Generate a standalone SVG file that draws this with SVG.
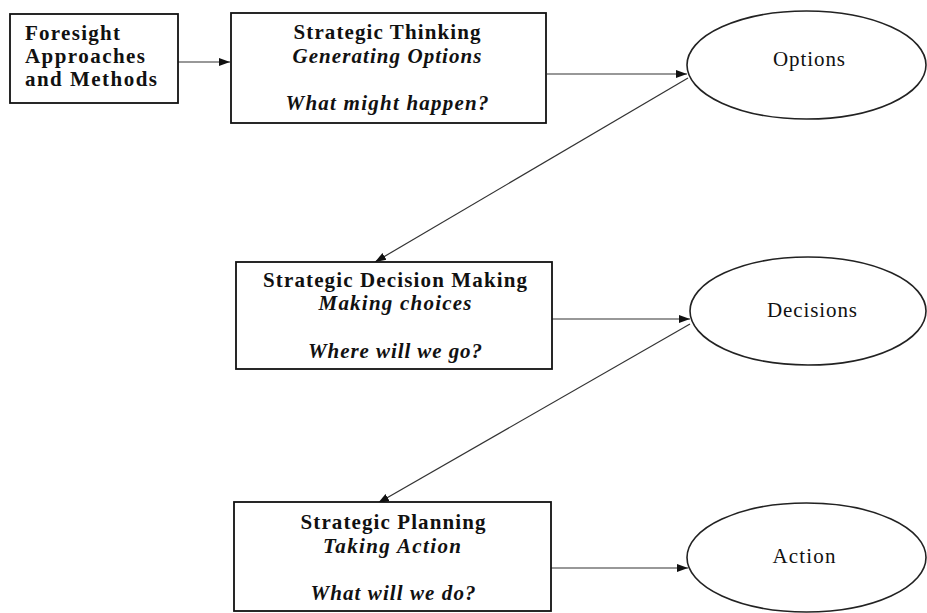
<svg xmlns="http://www.w3.org/2000/svg" width="927" height="613" viewBox="0 0 927 613">
<defs>
<marker id="arr" markerUnits="userSpaceOnUse" markerWidth="12" markerHeight="10" refX="11" refY="5" orient="auto">
<path d="M0,1 L11,5 L0,9 Z" fill="#111"/>
</marker>
<style>
.box{fill:#fff;stroke:#111;stroke-width:1.8}
.ell{fill:#fff;stroke:#222;stroke-width:1.6}
.con{stroke:#333;stroke-width:1.2;fill:none;marker-end:url(#arr)}
text{font-family:"Liberation Serif","Times New Roman",serif;fill:#111}
.b{font-weight:bold;font-size:21px}
.bi{font-weight:bold;font-style:italic;font-size:21px}
.r{font-size:21px}
.c{text-anchor:middle}
</style>
</defs>
<rect width="927" height="613" fill="#fff"/>
<g id="connectors">
<line class="con" x1="178" y1="62" x2="230" y2="62"/>
<line class="con" x1="547" y1="74" x2="687" y2="74"/>
<line class="con" x1="688" y1="78" x2="375" y2="262"/>
<line class="con" x1="552" y1="319" x2="690" y2="319"/>
<line class="con" x1="690" y1="324" x2="378" y2="503"/>
<line class="con" x1="551" y1="568" x2="688" y2="568"/>
</g>
<g id="foresight">
<rect class="box" x="10" y="14" width="168" height="89"/>
<text class="b" x="25" y="40" textLength="95">Foresight</text>
<text class="b" x="25" y="63" textLength="120">Approaches</text>
<text class="b" x="25" y="86" textLength="132">and Methods</text>
</g>
<g id="strategic-thinking">
<rect class="box" x="231" y="13" width="315" height="110"/>
<text class="b c" x="387" y="39" textLength="187">Strategic Thinking</text>
<text class="bi c" x="387" y="63" textLength="189">Generating Options</text>
<text class="bi c" x="387" y="110" textLength="203">What might happen?</text>
</g>
<g id="strategic-decision-making">
<rect class="box" x="236" y="262" width="316" height="107"/>
<text class="b c" x="395" y="287" textLength="264">Strategic Decision Making</text>
<text class="bi c" x="395" y="310" textLength="153">Making choices</text>
<text class="bi c" x="395" y="358" textLength="174">Where will we go?</text>
</g>
<g id="strategic-planning">
<rect class="box" x="234" y="502" width="317" height="109"/>
<text class="b c" x="393" y="529" textLength="185">Strategic Planning</text>
<text class="bi c" x="392" y="553" textLength="138">Taking Action</text>
<text class="bi c" x="393" y="600" textLength="165">What will we do?</text>
</g>
<g id="options">
<ellipse class="ell" cx="806.5" cy="65" rx="119.5" ry="54"/>
<text class="r c" x="809" y="66" textLength="72">Options</text>
</g>
<g id="decisions">
<ellipse class="ell" cx="808" cy="311" rx="118" ry="54"/>
<text class="r c" x="812" y="317" textLength="90">Decisions</text>
</g>
<g id="action">
<ellipse class="ell" cx="806.5" cy="557.5" rx="119.5" ry="54.5"/>
<text class="r c" x="804" y="563" textLength="63">Action</text>
</g>
</svg>
